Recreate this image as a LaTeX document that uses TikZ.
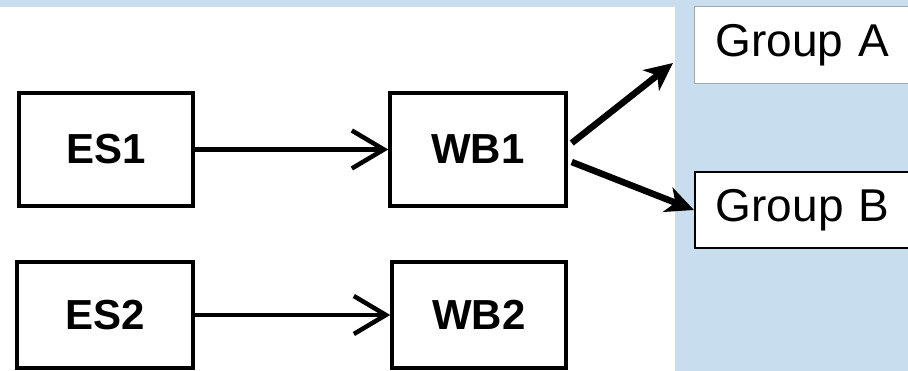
\documentclass[tikz,border=0pt]{standalone}
\usepackage{fontspec}
\setmainfont{Liberation Sans}
\usetikzlibrary{arrows.meta,calc}
\definecolor{bgblue}{HTML}{C8DEEE}
\tikzset{
  esbox/.style={draw=black, line width=3.5pt, fill=white, inner sep=0pt,
    font=\fontsize{42}{46}\selectfont\bfseries},
  grpbox/.style={fill=white, anchor=west, minimum width=230pt, text width=200pt,
    align=left, inner xsep=21pt, inner ysep=0pt, font=\fontsize{46}{50}\selectfont},
  flow/.style={line width=4.5pt, -{Straight Barb[length=32pt,width=38pt,line width=4.5pt]}},
  fan/.style={line width=6.5pt, -{Stealth[length=28pt,width=26pt,inset=8pt]}}
}
\begin{document}
\begin{tikzpicture}[x=1pt,y=-1pt]
\useasboundingbox (0,0) rectangle (908,371);
\clip (0,0) rectangle (908,371);
\fill[white] (0,0) rectangle (908,371);
\fill[bgblue] (0,0) rectangle (908,7);
\fill[bgblue] (675,0) rectangle (908,371);
\node[esbox, minimum width=174pt, minimum height=113pt] (es1) at (106,149.5) {ES1};
\node[esbox, minimum width=176pt, minimum height=113pt] (wb1) at (478,149.5) {WB1};
\node[esbox, minimum width=176pt, minimum height=106pt] (es2) at (105,315) {ES2};
\node[esbox, minimum width=174pt, minimum height=106pt] (wb2) at (479,315) {WB2};
\node[grpbox, draw=gray!70, line width=1pt, minimum height=77pt] (ga) at (694,45.5) {Group A};
\node[grpbox, draw=black, line width=1.5pt, minimum height=76pt] (gb) at (694,210) {Group B};
\coordinate (wb1a) at ($(wb1.east)+(4,-6.5)$);
\coordinate (wb1b) at ($(wb1.east)+(4,12.5)$);
\coordinate (gatip) at ($(ga.west)+(-21,17.5)$);
\draw[flow] (es1.east) -- (wb1.west);
\draw[flow] (es2.east) -- (wb2.west);
\draw[fan] (wb1a) -- (gatip);
\draw[fan] (wb1b) -- (gb.west);
\end{tikzpicture}
\end{document}
